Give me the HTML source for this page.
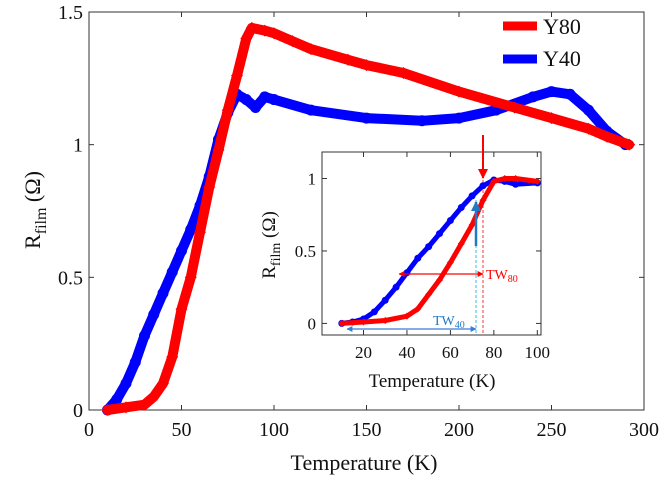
<!DOCTYPE html>
<html><head><meta charset="utf-8"><style>
body{margin:0;background:#fff}
svg{display:block;font-family:"Liberation Serif",serif}
</style></head><body>
<svg id="chart" width="666" height="484" viewBox="0 0 666 484" xmlns="http://www.w3.org/2000/svg">
<g id="main"></g><g id="inset"></g>
</svg>
<script>
const mainRedT=[10,20,30,35,40,45,50,55,60,65,70,75,80,85,88,95,100,110,120,140,150,170,200,230,250,270,280,292];
const mainRedV=[0,0.01,0.02,0.05,0.1,0.2,0.38,0.5,0.67,0.84,0.98,1.13,1.26,1.4,1.44,1.43,1.42,1.39,1.36,1.32,1.3,1.27,1.2,1.14,1.1,1.06,1.03,1.0];
const mainBlueT=[10,15,20,25,30,35,40,45,50,55,60,65,70,75,80,85,90,95,100,120,150,180,200,220,240,250,260,270,280,290];
const mainBlueV=[0,0.04,0.1,0.18,0.28,0.36,0.44,0.52,0.6,0.68,0.77,0.88,1.02,1.12,1.19,1.17,1.14,1.18,1.17,1.13,1.1,1.09,1.1,1.13,1.18,1.2,1.19,1.13,1.05,1.0];
const insetRedT=[10,20,30,40,45,50,55,60,65,70,75,80,85,90,100];
const insetRedV=[0,0.01,0.02,0.05,0.1,0.2,0.3,0.42,0.55,0.68,0.85,0.98,1.0,1.0,0.98];
const insetBlueT=[10,15,20,25,30,35,40,45,50,55,60,65,70,75,80,85,90,100];
const insetBlueV=[0,0.01,0.03,0.08,0.16,0.25,0.35,0.45,0.53,0.62,0.71,0.8,0.88,0.95,0.99,0.98,0.96,0.97];
const mainXTicks=[0,50,100,150,200,250,300];
const mainYTicks=[0,0.5,1,1.5];
const mainYLabels=["0","0.5","1","1.5"];
const insetXTicks=[20,40,60,80,100];
const insetYTicks=[0,0.5,1];
const insetYLabels=["0","0.5","1"];

const NS="http://www.w3.org/2000/svg";
function mk(p,t,a,txt){const e=document.createElementNS(NS,t);for(const k in a)e.setAttribute(k,a[k]);if(txt!==undefined)e.textContent=txt;p.appendChild(e);return e;}

function drawAxes(g,o){
  const X=v=>o.x0+(v-o.xmin)/(o.xmax-o.xmin)*(o.x1-o.x0);
  const Y=v=>o.y0-(v-o.ymin)/(o.ymax-o.ymin)*(o.y0-o.y1);
  const box=mk(g,'rect',{x:o.x0,y:o.y1,width:o.x1-o.x0,height:o.y0-o.y1,fill:'#fff',stroke:'#333','stroke-width':1});
  
  
  o.xt.forEach(t=>{const x=X(t);
    mk(g,'line',{x1:x,x2:x,y1:o.y0,y2:o.y0-5,stroke:'#333'});mk(g,'line',{x1:x,x2:x,y1:o.y1,y2:o.y1+5,stroke:'#333'});
    const l=mk(g,'text',{x:x,y:o.y0+o.fs+6,'font-size':o.fs,'text-anchor':'middle',fill:'#111'},String(t));
    
    
  });
  o.yt.forEach((t,i)=>{const y=Y(t);
    mk(g,'line',{x1:o.x0,x2:o.x0+5,y1:y,y2:y,stroke:'#333'});mk(g,'line',{x1:o.x1,x2:o.x1-5,y1:y,y2:y,stroke:'#333'});
    const l=mk(g,'text',{x:o.x0-6,y:y+o.fs*0.35,'font-size':o.fs,'text-anchor':'end',fill:'#111'},o.yl[i]);
    
    
  });
  return {X,Y};
}
function series(g,ax,T,V,col,shape,r,sw,name){
  const pts=T.map((t,i)=>ax.X(t).toFixed(1)+','+ax.Y(V[i]).toFixed(1)).join(' ');
  const pl=mk(g,'polyline',{points:pts,fill:'none',stroke:col,'stroke-width':sw,'stroke-linejoin':'round','stroke-linecap':'round'});
  
  
  T.forEach((t,i)=>{const x=ax.X(t),y=ax.Y(V[i]);let m;
    if(shape==='d')m=mk(g,'polygon',{points:`${x},${y-r} ${x+r},${y} ${x},${y+r} ${x-r},${y}`,fill:col});
    else m=mk(g,'circle',{cx:x,cy:y,r:r,fill:col});
    
    
  });
}
const gm=document.getElementById('main');
const am=drawAxes(gm,{name:'main',x0:89,x1:644,y0:410,y1:12,xmin:0,xmax:300,ymin:0,ymax:1.5,xt:mainXTicks,yt:mainYTicks,yl:mainYLabels,fs:20});
series(gm,am,mainBlueT,mainBlueV,'#0000ff','c',5.5,10,'y40-series');
series(gm,am,mainRedT,mainRedV,'#ff0000','d',6,10,'y80-series');
let t=mk(gm,'text',{x:364,y:470,'font-size':22,'text-anchor':'middle',fill:'#111'},'Temperature (K)');

t=mk(gm,'text',{x:0,y:0,'font-size':22,'text-anchor':'middle',fill:'#111',transform:'translate(40,210) rotate(-90)'});
t.innerHTML='R<tspan font-size="16" dy="6">film</tspan><tspan dy="-6"> (Ω)</tspan>';

let l=mk(gm,'line',{x1:503,x2:537,y1:26,y2:26,stroke:'#ff0000','stroke-width':9});

t=mk(gm,'text',{x:543,y:34,'font-size':22,fill:'#111'},'Y80');

l=mk(gm,'line',{x1:503,x2:537,y1:59,y2:59,stroke:'#0000ff','stroke-width':9});

t=mk(gm,'text',{x:543,y:66,'font-size':22,fill:'#111'},'Y40');


const gi=document.getElementById('inset');
const ai=drawAxes(gi,{name:'inset',x0:322,x1:541,y0:335,y1:152,xmin:0.9,xmax:101.7,ymin:-0.08,ymax:1.183,xt:insetXTicks,yt:insetYTicks,yl:insetYLabels,fs:17});
mk(gi,'line',{x1:476,x2:476,y1:200,y2:335,stroke:'#33bbee','stroke-width':1,'stroke-dasharray':'3,2'});
mk(gi,'line',{x1:483,x2:483,y1:180,y2:335,stroke:'#ff3333','stroke-width':1,'stroke-dasharray':'3,2'});
series(gi,ai,insetBlueT,insetBlueV,'#0000ff','c',3.5,5,'inset-y40-series');
series(gi,ai,insetRedT,insetRedV,'#ff0000','d',3.5,5,'inset-y80-series');
mk(gi,'defs',{}).innerHTML='<marker id="ar" viewBox="0 0 10 10" refX="9" refY="5" markerWidth="5" markerHeight="5" orient="auto-start-reverse"><path d="M0,0L10,5L0,10z" fill="#f00"/></marker><marker id="ab" viewBox="0 0 10 10" refX="9" refY="5" markerWidth="5" markerHeight="5" orient="auto-start-reverse"><path d="M0,0L10,5L0,10z" fill="#3a7bd5"/></marker><marker id="ab2" viewBox="0 0 10 10" refX="9" refY="5" markerWidth="4" markerHeight="4" orient="auto"><path d="M0,0L10,5L0,10z" fill="#1f78c8"/></marker>';
l=mk(gi,'line',{x1:483,x2:483,y1:135,y2:178,stroke:'#f00','stroke-width':2,'marker-end':'url(#ar)'});

l=mk(gi,'line',{x1:476,x2:476,y1:246,y2:202,stroke:'#1f78c8','stroke-width':2.5,'marker-end':'url(#ab2)'});

l=mk(gi,'line',{x1:399,x2:483,y1:274,y2:274,stroke:'#f00','stroke-width':1.2,'marker-start':'url(#ar)','marker-end':'url(#ar)'});

l=mk(gi,'line',{x1:347,x2:476,y1:329,y2:329,stroke:'#3a7bd5','stroke-width':1.2,'marker-start':'url(#ab)','marker-end':'url(#ab)'});

t=mk(gi,'text',{x:486,y:279,'font-size':14,fill:'#f00'});t.innerHTML='TW<tspan font-size="10" dy="3">80</tspan>';

t=mk(gi,'text',{x:433,y:325,'font-size':14,fill:'#1f78c8'});t.innerHTML='TW<tspan font-size="10" dy="3">40</tspan>';

t=mk(gi,'text',{x:432,y:387,'font-size':19,'text-anchor':'middle',fill:'#111'},'Temperature (K)');

t=mk(gi,'text',{x:0,y:0,'font-size':19,'text-anchor':'middle',fill:'#111',transform:'translate(275,245) rotate(-90)'});
t.innerHTML='R<tspan font-size="14" dy="5">film</tspan><tspan dy="-5"> (Ω)</tspan>';

</script>
</body></html>
